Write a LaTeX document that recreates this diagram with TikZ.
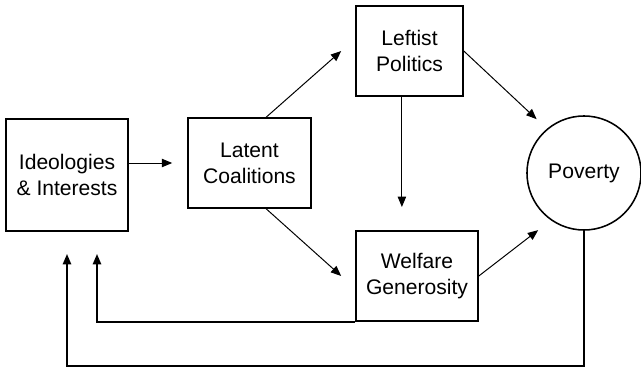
\documentclass[tikz,border=0pt]{standalone}
\usepackage{fontspec}
\setmainfont{Liberation Sans}
\usepackage{tikz}
\usetikzlibrary{
    calc,
    positioning,
    arrows.meta
}
\tikzset{
    line/.style = {
        line width = 0.7pt,
        -{Triangle[length=2.6mm, width=2.1mm]}
    },
    % Feedback path:
    loop line/.style = {
        line,
        line width = 1.1pt
    },
    % Boxed factor:
    factor node/.style = {
        rectangle,
        draw = black,
        line width = 1.1pt,
        align = center,
        inner sep = 0pt,
        font = \fontsize{15}{18.5}\selectfont
    },
    % Outcome:
    outcome node/.style = {
        factor node,
        circle,
        minimum size = 2.85cm
    }
}

\begin{document}
\begin{tikzpicture}[x=0.025cm, y=-0.025cm]
            \useasboundingbox (0, 0) rectangle (641, 368);
            \node [factor node, minimum width=3.05cm, minimum height=2.8cm] (ideo) at (67, 175) {Ideologies\\\& Interests};
            \node [factor node, minimum width=3.075cm, minimum height=2.25cm] (latent) at (249.5, 163) {Latent\\Coalitions};
            \node [factor node, minimum width=2.675cm, minimum height=2.25cm] (leftist) at (409.5, 51) {Leftist\\Politics};
            \node [factor node, minimum width=3.05cm, minimum height=2.25cm] (welfare) at (417, 276) {Welfare\\Generosity};
            \node [outcome node] (poverty) at (584, 173) {Poverty};
            % free ends of the feedback paths
            \coordinate (fbinner) at (97, 254);
            \coordinate (fbouter) at (67, 254);
            \coordinate (fbbottom) at (67, 366);
            \draw [line] (ideo.east |- latent.west) -- ([xshift=-0.375cm]latent.west);
            \draw [line] (latent.70) -- ([xshift=-0.35cm]leftist.west);
            \draw [line] (latent.-70) -- ([xshift=-0.35cm]welfare.west);
            \draw [line] ([xshift=-0.19cm]leftist.south) -- ([xshift=-0.19cm, yshift=0.58cm]leftist.south |- welfare.north);
            \draw [line, shorten >=0.35cm] (leftist.east) -- (poverty.130);
            \draw [line, shorten >=0.4cm] (welfare.east) -- (poverty.235);
            \draw [loop line] (welfare.south west) -| (fbinner);
            \draw [loop line] (poverty.south) |- (fbbottom) -- (fbouter);
        \end{tikzpicture}
\end{document}
